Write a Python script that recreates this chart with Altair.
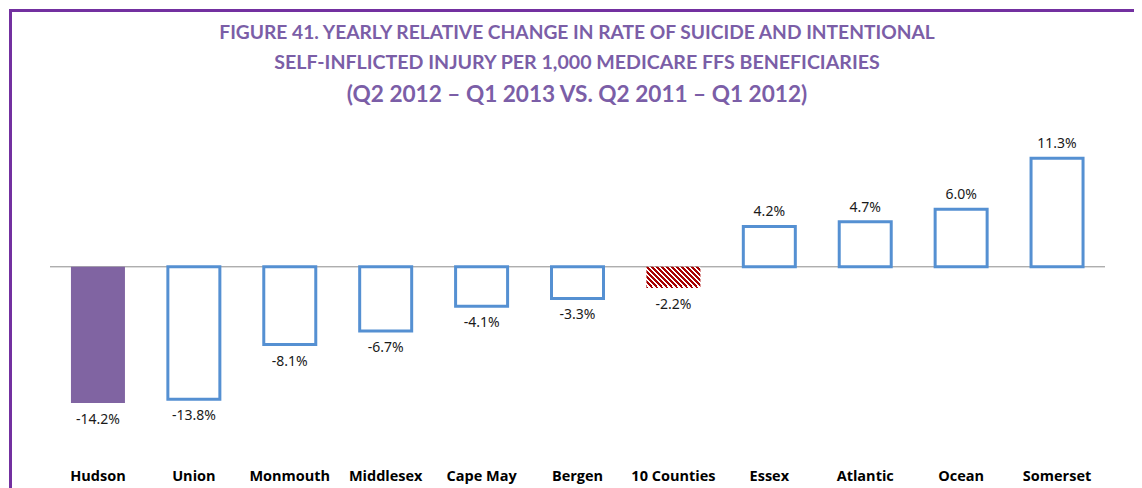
import altair as alt
import pandas as pd

counties = ["Hudson", "Union", "Monmouth", "Middlesex", "Cape May", "Bergen",
            "10 Counties", "Essex", "Atlantic", "Ocean", "Somerset"]
values = [-14.2, -13.8, -8.1, -6.7, -4.1, -3.3, -2.2, 4.2, 4.7, 6.0, 11.3]
groups = ["focus", "county", "county", "county", "county", "county",
          "total", "county", "county", "county", "county"]
labels = [f"{v:.1f}%" for v in values]

title_lines = ["FIGURE 41. YEARLY RELATIVE CHANGE IN RATE OF SUICIDE AND INTENTIONAL",
               "SELF-INFLICTED INJURY PER 1,000 MEDICARE FFS BENEFICIARIES",
               "(Q2 2012 – Q1 2013 VS. Q2 2011 – Q1 2012)"]

df = pd.DataFrame({"county": counties, "value": values, "group": groups, "label": labels})

W, H = 1055, 338.4
PURPLE_TITLE = "#7B5EA7"
BORDER = "#7330A0"
BLUE = "#5590D2"

# hatch pattern as striped linear gradient (red / white diagonal)
bw, bh = 54.0, 21.0
s = (bw + bh) / (bw * bw + bh * bh)
n = 15
stops = []
for k in range(n):
    stops += [
        alt.GradientStop(offset=k / n, color="#A80000"),
        alt.GradientStop(offset=(k + 0.5) / n, color="#A80000"),
        alt.GradientStop(offset=(k + 0.5) / n, color="#ffffff"),
        alt.GradientStop(offset=(k + 1) / n, color="#ffffff"),
    ]
hatch = alt.LinearGradient(gradient="linear", stops=stops,
                           x1=0, y1=1, x2=s * bw, y2=1 - s * bh)

yscale = alt.Scale(domain=[-21, 14.25], nice=False, zero=False)
xenc = alt.X("county:N", sort=counties, title=None,
             scale=alt.Scale(paddingInner=0.437, paddingOuter=0.2185),
             axis=alt.Axis(ticks=False, domain=False, labelAngle=0, labelPadding=1,
                           labelFont="Open Sans", labelFontWeight="bold", labelFontSize=14.5,
                           labelColor="#000000", labelBaseline="top"))
yenc = alt.Y("value:Q", scale=yscale, axis=None)

base = alt.Chart(df)

focus = base.transform_filter("datum.group == 'focus'").mark_bar(
    color="#8064A2").encode(x=xenc, y=yenc, y2=alt.datum(0))
county = base.transform_filter("datum.group == 'county'").mark_bar(
    fill="#ffffff", stroke=BLUE, strokeWidth=3,
    width=alt.RelativeBandSize(0.963)).encode(x=xenc, y=yenc, y2=alt.datum(0))
total = base.transform_filter("datum.group == 'total'").mark_bar(
    fill=hatch).encode(x=xenc, y=yenc, y2=alt.datum(0))

zero = alt.Chart(pd.DataFrame({"z": [0]})).mark_rule(
    color="#8C8C8C", strokeWidth=1).encode(
    y=alt.Y("z:Q", scale=yscale, axis=None), x=alt.value(0), x2=alt.value(W))

pos_text = base.transform_filter("datum.value > 0").mark_text(
    baseline="bottom", dy=-7, font="Noto Sans", fontSize=14, color="#1A1A1A").encode(
    x=xenc, y=yenc, text="label:N")
neg_text = base.transform_filter("datum.value < 0").mark_text(
    baseline="top", dy=10, font="Noto Sans", fontSize=14, color="#1A1A1A").encode(
    x=xenc, y=yenc, text="label:N")

one = pd.DataFrame({"a": [0]})
left_border = alt.Chart(one).mark_rule(color=BORDER, strokeWidth=3).encode(
    x=alt.value(-39.5), y=alt.value(-121), y2=alt.value(420))
top_border = alt.Chart(one).mark_rule(color=BORDER, strokeWidth=3).encode(
    x=alt.value(-41), x2=alt.value(1200), y=alt.value(-119.5))

title_y = [-97, -67, -35]
title_size = [19.2, 19.6, 22.6]
title_layers = [
    alt.Chart(one).mark_text(
        text=t, font="Lato", fontWeight="bold", fontSize=fs, color=PURPLE_TITLE,
        align="center", baseline="middle").encode(x=alt.value(527), y=alt.value(ty))
    for t, ty, fs in zip(title_lines, title_y, title_size)
]

chart = alt.layer(
    zero, focus, county, total, pos_text, neg_text, left_border, top_border, *title_layers
).properties(
    width=W, height=H,
    autosize=alt.AutoSizeParams(type="none"),
    padding={"left": 42, "top": 122, "right": 29, "bottom": 19.6},
).configure_view(stroke=None)

chart.save("out.html", embed_options={"renderer": "svg", "actions": False})
